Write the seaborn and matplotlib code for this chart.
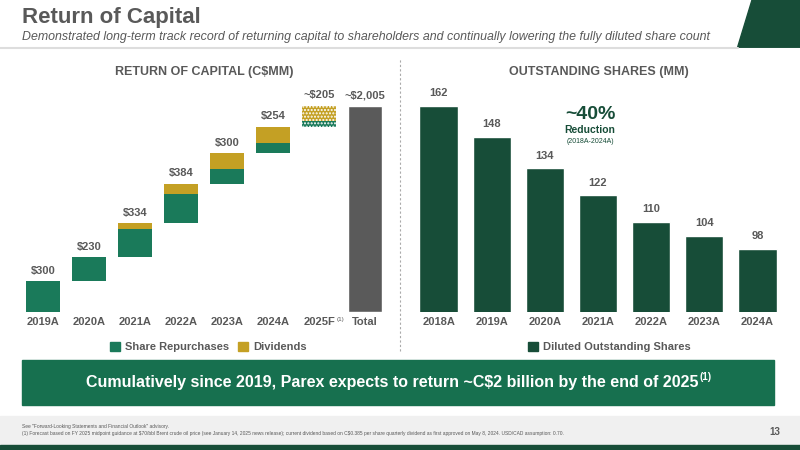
import numpy as np
import pandas as pd
import matplotlib.pyplot as plt
import seaborn as sns
from matplotlib.patches import Rectangle, Polygon

# --- DATA ---
years_roc = ["2019A", "2020A", "2021A", "2022A", "2023A", "2024A", "2025F", "Total"]
repurchases = [300, 230, 272, 284, 145, 99, 50]
dividends = [0, 0, 62, 100, 155, 155, 155]
roc_labels = ["$300", "$230", "$334", "$384", "$300", "$254", "~$205", "~$2,005"]
roc_total = 2005

years_sh = ["2018A", "2019A", "2020A", "2021A", "2022A", "2023A", "2024A"]
shares = [162, 148, 134, 122, 110, 104, 98]

GREEN = "#1a7a5a"
GOLD = "#c4a024"
DARK = "#174d38"
GREY = "#5a5a5a"
TXT = "#595959"

sns.set_theme(style="white")
plt.rcParams['font.family'] = ['Liberation Sans', 'DejaVu Sans']

fig = plt.figure(figsize=(8, 4.5), dpi=100)


def ftext(x, y, s, **kw):
    return fig.text(x, y, s, parse_math=False, **kw)


# header
ftext(0.027, 0.962, "Return of Capital", fontsize=16, fontweight="bold", color=TXT, va="center")
ftext(0.027, 0.918, "Demonstrated long-term track record of returning capital to shareholders and continually lowering the fully diluted share count",
      fontsize=8.9, style="italic", color=TXT, va="center")
fig.add_artist(Polygon([[0.922, 0.895], [0.94, 1.0], [1.0, 1.0], [1.0, 0.895]], closed=True,
                       transform=fig.transFigure, color=DARK))
fig.add_artist(plt.Line2D([0, 0.922], [0.893, 0.893], color="#dddddd", lw=1.5, transform=fig.transFigure))

# --- left waterfall ---
ax1 = fig.add_axes([0.025, 0.307, 0.46, 0.458])
cum = 0
for i in range(7):
    r, d = repurchases[i], dividends[i]
    hatch = "....." if i == 6 else None
    ax1.bar(i, r, bottom=cum, width=0.75, color=GREEN, edgecolor="white" if hatch else GREEN,
            hatch=hatch, lw=0)
    if d:
        ax1.bar(i, d, bottom=cum + r, width=0.75, color=GOLD, edgecolor="white" if hatch else GOLD,
                hatch=hatch, lw=0)
    cum += r + d
    ax1.text(i, cum + 50, roc_labels[i], ha="center", va="bottom", fontsize=8, fontweight="bold",
             color=TXT, parse_math=False)
ax1.bar(7, roc_total, width=0.75, color=GREY)
ax1.text(7, roc_total + 50, roc_labels[7], ha="center", va="bottom", fontsize=8, fontweight="bold",
         color=TXT, parse_math=False)
ax1.set_xlim(-0.5, 7.5)
ax1.set_ylim(0, roc_total)
ax1.set_xticks(range(8))
ax1.set_xticklabels(years_roc, fontsize=8, fontweight="bold", color=TXT)
ax1.tick_params(axis="x", length=0, pad=4)
ax1.set_yticks([])
sns.despine(ax=ax1, left=True, bottom=True)
# footnote mark on 2025F tick
ax1.annotate("(1)", xy=(6, 0), xycoords=("data", "axes fraction"), xytext=(12.5, -5.5),
             textcoords="offset points", fontsize=4.5, color=TXT, va="center", annotation_clip=False)
ftext(0.255, 0.84, "RETURN OF CAPITAL (C$MM)", fontsize=9, fontweight="bold", color=TXT, ha="center", va="center")

# --- right shares ---
ax2 = fig.add_axes([0.515, 0.307, 0.465, 0.458])
df = pd.DataFrame({"year": years_sh, "shares": shares})
sns.barplot(data=df, x="year", y="shares", color=DARK, saturation=1, width=0.72, ax=ax2)
for i, v in enumerate(shares):
    ax2.text(i, v + 3.5, str(v), ha="center", va="bottom", fontsize=8, fontweight="bold", color=TXT)
ax2.set_ylim(70, 162)
ax2.set_xlabel("")
ax2.set_ylabel("")
ax2.set_yticks([])
ax2.set_xticklabels(years_sh, fontsize=8, fontweight="bold", color=TXT)
ax2.tick_params(axis="x", length=0, pad=4)
sns.despine(ax=ax2, left=True, bottom=True)
ftext(0.748, 0.84, "OUTSTANDING SHARES (MM)", fontsize=9, fontweight="bold", color=TXT, ha="center", va="center")
ax2.text(2.85, 158, "~40%", ha="center", va="center", fontsize=14, fontweight="bold", color=DARK)
ax2.text(2.85, 151, "Reduction", ha="center", va="center", fontsize=7.5, fontweight="bold", color=DARK)
ax2.text(2.85, 146, "(2018A-2024A)", ha="center", va="center", fontsize=5, color=DARK)

# separator
fig.add_artist(plt.Line2D([0.5, 0.5], [0.22, 0.87], color="#aaaaaa", lw=0.8, ls=(0, (2, 2)),
                          transform=fig.transFigure))


# legends
def legend_item(x, color, label):
    fig.add_artist(Rectangle((x, 0.219), 0.013, 0.022, color=color, transform=fig.transFigure))
    ftext(x + 0.019, 0.229, label, fontsize=8, fontweight="bold", color=TXT, va="center")


legend_item(0.137, GREEN, "Share Repurchases")
legend_item(0.297, GOLD, "Dividends")
legend_item(0.66, DARK, "Diluted Outstanding Shares")

# banner
fig.add_artist(Rectangle((0.027, 0.1), 0.94, 0.1, color="#17704f", transform=fig.transFigure))
ftext(0.49, 0.149, "Cumulatively since 2019, Parex expects to return ~C$2 billion by the end of 2025",
      fontsize=11.5, fontweight="bold", color="white", ha="center", va="center")
ftext(0.874, 0.163, "(1)", fontsize=7, fontweight="bold", color="white", ha="left", va="center")

# footer
fig.add_artist(Rectangle((0, 0.0), 1, 0.075, color="#f0f0f0", transform=fig.transFigure))
fig.add_artist(Rectangle((0, 0.0), 1, 0.012, color=DARK, transform=fig.transFigure))
ftext(0.027, 0.048, "See \"Forward-Looking Statements and Financial Outlook\" advisory.", fontsize=3.5, color=TXT)
ftext(0.027, 0.033, "(1) Forecast based on FY 2025 midpoint guidance at $70/bbl Brent crude oil price (see January 14, 2025 news release); current dividend based on C$0.385 per share quarterly dividend as first approved on May 8, 2024. USD/CAD assumption: 0.70.",
      fontsize=3.5, color=TXT)
ftext(0.975, 0.04, "13", fontsize=7, fontweight="bold", color=TXT, ha="right", va="center")

fig.savefig("out.png", dpi=100)
